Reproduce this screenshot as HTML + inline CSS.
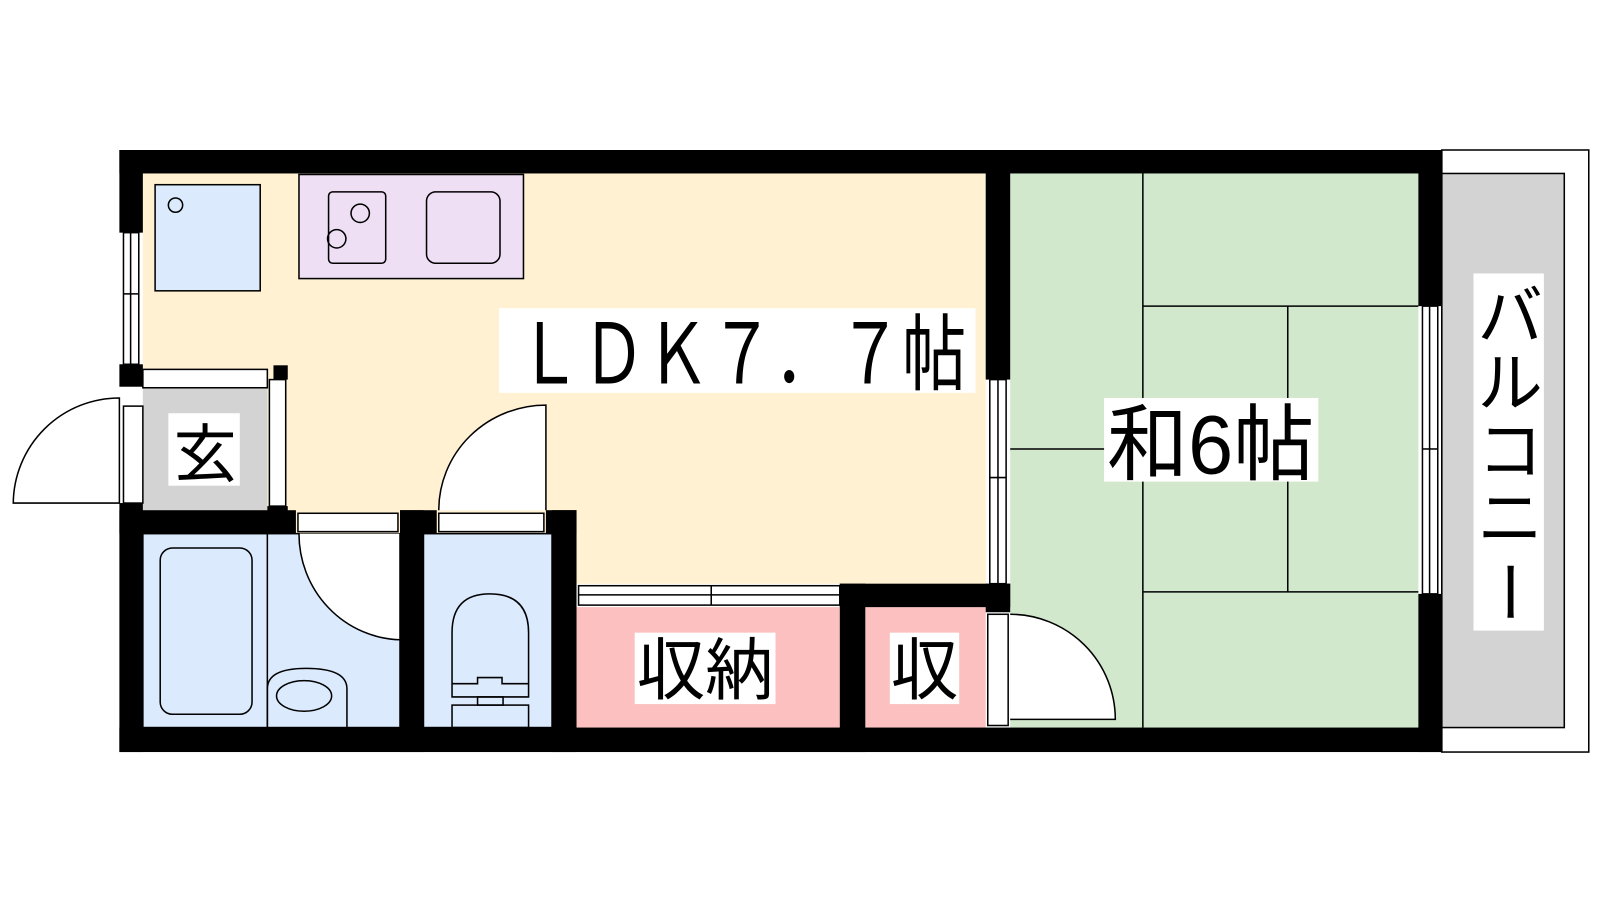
<!DOCTYPE html>
<html><head><meta charset="utf-8"><style>html,body{margin:0;padding:0;background:#fff;}svg{display:block}</style></head>
<body>
<svg width="1600" height="900" viewBox="0 0 1568 882" xmlns="http://www.w3.org/2000/svg" font-family="Liberation Sans, Noto Sans CJK JP, sans-serif">
<rect width="1568" height="882" fill="#fff"/>
<rect x="1413" y="147" width="144" height="590" fill="#fff" stroke="#000" stroke-width="1.5"/>
<rect x="1413" y="170" width="120" height="543" fill="#d3d3d3" stroke="#000" stroke-width="1.5"/>
<rect x="140" y="170" width="826" height="402" fill="#fff1d2"/>
<rect x="565" y="500" width="401" height="72" fill="#fff1d2"/>
<rect x="990" y="170" width="400" height="543" fill="#d2e8cc"/>
<rect x="140" y="523" width="252" height="190" fill="#dbeafd" stroke="#000" stroke-width="1.5"/>
<rect x="415" y="523" width="126" height="190" fill="#dbeafd" stroke="#000" stroke-width="1.5"/>
<rect x="565" y="595" width="258" height="118" fill="#fcc0c0"/>
<rect x="848" y="595" width="118" height="118" fill="#fcc0c0"/>
<rect x="140" y="380" width="122" height="120" fill="#d3d3d3"/>
<g stroke="#000" stroke-width="1.5" fill="none">
<line x1="1120" y1="170" x2="1120" y2="713"/>
<line x1="1120" y1="300" x2="1390" y2="300"/>
<line x1="1120" y1="580" x2="1390" y2="580"/>
<line x1="1262" y1="300" x2="1262" y2="580"/>
<line x1="990" y1="440" x2="1120" y2="440"/>
</g>
<rect x="152" y="181" width="103" height="104" fill="#dbeafd" stroke="#000" stroke-width="1.5"/>
<circle cx="172" cy="201" r="7" fill="none" stroke="#000" stroke-width="1.5"/>
<rect x="293" y="171" width="220" height="102" fill="#eedff5" stroke="#000" stroke-width="1.5"/>
<rect x="322" y="188" width="56" height="70" rx="4" fill="none" stroke="#000" stroke-width="1.5"/>
<circle cx="353" cy="209" r="9" fill="none" stroke="#000" stroke-width="1.5"/>
<circle cx="330" cy="234" r="9" fill="none" stroke="#000" stroke-width="1.5"/>
<rect x="418" y="188" width="72" height="70" rx="9" fill="none" stroke="#000" stroke-width="1.5"/>
<rect x="157" y="537" width="90" height="163" rx="12" fill="none" stroke="#000" stroke-width="1.5"/>
<line x1="262" y1="523" x2="262" y2="713" stroke="#000" stroke-width="1.5"/>
<path d="M262 713 V675 Q262 655 300 655 Q340 655 340 675 V713" fill="none" stroke="#000" stroke-width="1.5"/>
<ellipse cx="298" cy="682" rx="27" ry="15" fill="none" stroke="#000" stroke-width="1.5"/>
<path d="M293 523 A102 104 0 0 0 392 627 V523" fill="#fff" stroke="#000" stroke-width="1.5"/>
<path d="M443 683 V620 Q443 582 480 582 Q518 582 518 620 V683 Z" fill="none" stroke="#000" stroke-width="1.5"/>
<path d="M443 670 H468 V664 H492 V670 H518" fill="none" stroke="#000" stroke-width="1.5"/>
<rect x="468" y="683" width="25" height="8" fill="none" stroke="#000" stroke-width="1.5"/>
<rect x="443" y="691" width="75" height="22" fill="none" stroke="#000" stroke-width="1.5"/>
<path d="M13 493 A104 104 0 0 1 117 390 V493 Z" fill="#fff" stroke="#000" stroke-width="1.5"/>
<path d="M430 500 A105 103 0 0 1 535 397 V500" fill="#fff" stroke="#000" stroke-width="1.5"/>
<path d="M990 602 A103 103 0 0 1 1093 705 H990" fill="#fff" stroke="#000" stroke-width="1.5"/>
<g fill="#000">
<rect x="117" y="147" width="1296" height="23"/>
<rect x="117" y="713" width="1296" height="24"/>
<rect x="117" y="147" width="23" height="81"/>
<rect x="117" y="357" width="23" height="22"/>
<rect x="117" y="493" width="23" height="244"/>
<rect x="117" y="500" width="173" height="23"/>
<rect x="392" y="500" width="36" height="23"/>
<rect x="392" y="500" width="23" height="237"/>
<rect x="535" y="500" width="30" height="23"/>
<rect x="541" y="500" width="24" height="237"/>
<rect x="823" y="572" width="167" height="23"/>
<rect x="823" y="572" width="25" height="165"/>
<rect x="966" y="147" width="24" height="225"/>
<rect x="966" y="572" width="24" height="28"/>
<rect x="1390" y="147" width="23" height="153"/>
<rect x="1390" y="582" width="23" height="155"/>
<rect x="268" y="358" width="14" height="14"/>
<rect x="262" y="496" width="20" height="8"/>
</g>
<g fill="#fff" stroke="#000" stroke-width="1.5">
<rect x="121" y="228" width="15" height="129"/>
<line x1="128" y1="228" x2="128" y2="357"/>
<line x1="121" y1="288" x2="136" y2="288"/>
<rect x="121" y="398" width="19" height="95"/>
<rect x="140" y="362" width="122" height="18"/>
<rect x="264" y="372" width="16" height="124"/>
<rect x="292" y="503" width="98" height="18"/>
<rect x="430" y="503" width="103" height="18"/>
<rect x="567" y="574" width="256" height="19"/>
<line x1="567" y1="583" x2="823" y2="583"/>
<line x1="697" y1="574" x2="697" y2="593"/>
<rect x="970" y="372" width="16" height="200"/>
<line x1="978" y1="372" x2="978" y2="572"/>
<line x1="970" y1="468" x2="986" y2="468"/>
<rect x="968" y="602" width="20" height="109"/>
<rect x="1394" y="300" width="15" height="282"/>
<line x1="1401" y1="300" x2="1401" y2="582"/>
<line x1="1394" y1="440" x2="1409" y2="440"/>
</g>
<rect x="489" y="302" width="467" height="83" fill="#fff"/>
<text x="507" y="376" font-size="82" textLength="440" lengthAdjust="spacingAndGlyphs">ＬＤＫ７．７帖</text>
<rect x="1082" y="390" width="210" height="82" fill="#fff"/>
<text x="1085" y="464" font-size="82" textLength="203" lengthAdjust="spacingAndGlyphs">和6帖</text>
<rect x="165" y="405" width="70" height="71" fill="#fff"/>
<text x="170" y="467" font-size="62">玄</text>
<rect x="622" y="620" width="138" height="70" fill="#fff"/>
<text x="624" y="680" font-size="66" textLength="134" lengthAdjust="spacingAndGlyphs">収納</text>
<rect x="872" y="620" width="68" height="70" fill="#fff"/>
<text x="873" y="680" font-size="66">収</text>
<rect x="1444" y="268" width="69" height="350" fill="#fff"/>
<text x="1448" y="332" font-size="64">バ</text>
<text x="1448" y="398" font-size="64">ル</text>
<text x="1448" y="464" font-size="64">コ</text>
<text x="1448" y="530" font-size="64">ニ</text>
<text x="1478" y="580" font-size="64" text-anchor="middle" dominant-baseline="central" transform="rotate(90 1478 580)">ー</text>
</svg>
</body></html>
